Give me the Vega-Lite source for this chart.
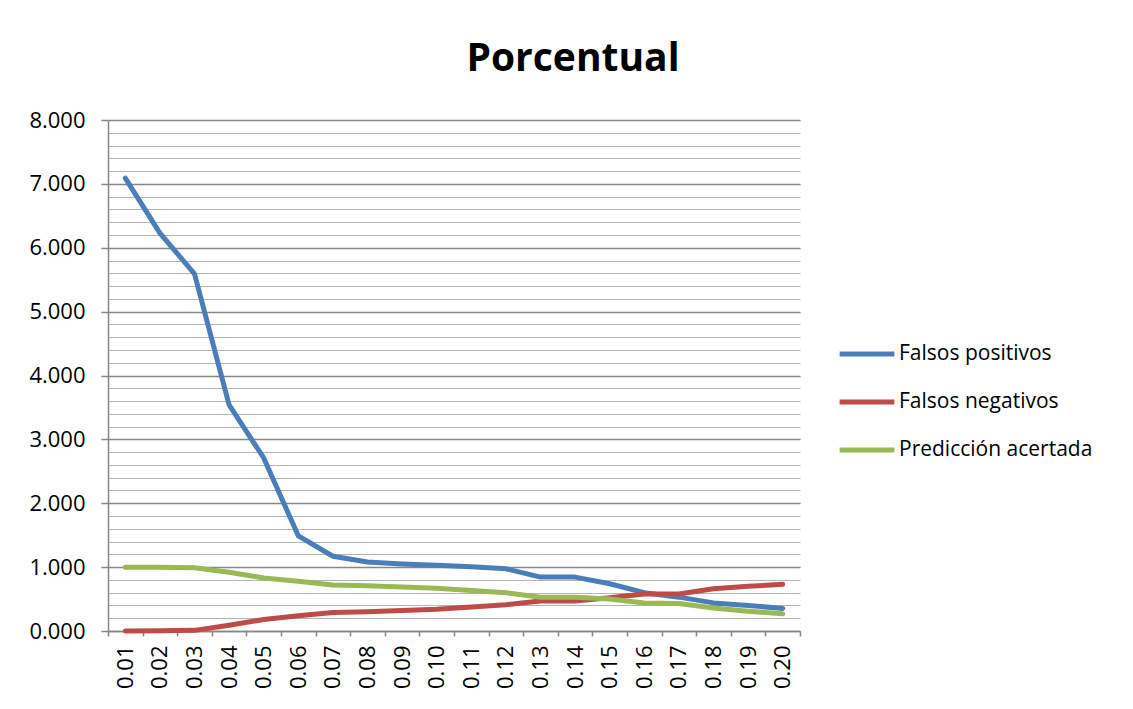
{
  "$schema": "https://vega.github.io/schema/vega-lite/v6.json",
  "width": 692,
  "height": 511,
  "autosize": {"type": "none"},
  "padding": {"left": 108, "top": 120, "right": 333, "bottom": 78},
  "background": "white",
  "title": {
    "text": "Porcentual",
    "font": "Open Sans",
    "fontSize": 39,
    "fontWeight": "bold",
    "color": "black",
    "anchor": "middle",
    "dx": 119,
    "offset": 30
  },
  "data": {
    "values": [
      {"umbral": "0.01", "serie": "Falsos positivos", "valor": 7.09},
      {"umbral": "0.02", "serie": "Falsos positivos", "valor": 6.23},
      {"umbral": "0.03", "serie": "Falsos positivos", "valor": 5.59},
      {"umbral": "0.04", "serie": "Falsos positivos", "valor": 3.54},
      {"umbral": "0.05", "serie": "Falsos positivos", "valor": 2.71},
      {"umbral": "0.06", "serie": "Falsos positivos", "valor": 1.49},
      {"umbral": "0.07", "serie": "Falsos positivos", "valor": 1.17},
      {"umbral": "0.08", "serie": "Falsos positivos", "valor": 1.08},
      {"umbral": "0.09", "serie": "Falsos positivos", "valor": 1.05},
      {"umbral": "0.10", "serie": "Falsos positivos", "valor": 1.03},
      {"umbral": "0.11", "serie": "Falsos positivos", "valor": 1.005},
      {"umbral": "0.12", "serie": "Falsos positivos", "valor": 0.974},
      {"umbral": "0.13", "serie": "Falsos positivos", "valor": 0.844},
      {"umbral": "0.14", "serie": "Falsos positivos", "valor": 0.844},
      {"umbral": "0.15", "serie": "Falsos positivos", "valor": 0.74},
      {"umbral": "0.16", "serie": "Falsos positivos", "valor": 0.60},
      {"umbral": "0.17", "serie": "Falsos positivos", "valor": 0.53},
      {"umbral": "0.18", "serie": "Falsos positivos", "valor": 0.44},
      {"umbral": "0.19", "serie": "Falsos positivos", "valor": 0.40},
      {"umbral": "0.20", "serie": "Falsos positivos", "valor": 0.354},
      {"umbral": "0.01", "serie": "Falsos negativos", "valor": 0.0},
      {"umbral": "0.02", "serie": "Falsos negativos", "valor": 0.005},
      {"umbral": "0.03", "serie": "Falsos negativos", "valor": 0.01},
      {"umbral": "0.04", "serie": "Falsos negativos", "valor": 0.09},
      {"umbral": "0.05", "serie": "Falsos negativos", "valor": 0.18},
      {"umbral": "0.06", "serie": "Falsos negativos", "valor": 0.24},
      {"umbral": "0.07", "serie": "Falsos negativos", "valor": 0.29},
      {"umbral": "0.08", "serie": "Falsos negativos", "valor": 0.30},
      {"umbral": "0.09", "serie": "Falsos negativos", "valor": 0.32},
      {"umbral": "0.10", "serie": "Falsos negativos", "valor": 0.34},
      {"umbral": "0.11", "serie": "Falsos negativos", "valor": 0.375},
      {"umbral": "0.12", "serie": "Falsos negativos", "valor": 0.41},
      {"umbral": "0.13", "serie": "Falsos negativos", "valor": 0.47},
      {"umbral": "0.14", "serie": "Falsos negativos", "valor": 0.47},
      {"umbral": "0.15", "serie": "Falsos negativos", "valor": 0.52},
      {"umbral": "0.16", "serie": "Falsos negativos", "valor": 0.58},
      {"umbral": "0.17", "serie": "Falsos negativos", "valor": 0.58},
      {"umbral": "0.18", "serie": "Falsos negativos", "valor": 0.66},
      {"umbral": "0.19", "serie": "Falsos negativos", "valor": 0.70},
      {"umbral": "0.20", "serie": "Falsos negativos", "valor": 0.73},
      {"umbral": "0.01", "serie": "Predicción acertada", "valor": 1.0},
      {"umbral": "0.02", "serie": "Predicción acertada", "valor": 1.0},
      {"umbral": "0.03", "serie": "Predicción acertada", "valor": 0.99},
      {"umbral": "0.04", "serie": "Predicción acertada", "valor": 0.92},
      {"umbral": "0.05", "serie": "Predicción acertada", "valor": 0.83},
      {"umbral": "0.06", "serie": "Predicción acertada", "valor": 0.78},
      {"umbral": "0.07", "serie": "Predicción acertada", "valor": 0.72},
      {"umbral": "0.08", "serie": "Predicción acertada", "valor": 0.71},
      {"umbral": "0.09", "serie": "Predicción acertada", "valor": 0.69},
      {"umbral": "0.10", "serie": "Predicción acertada", "valor": 0.67},
      {"umbral": "0.11", "serie": "Predicción acertada", "valor": 0.635},
      {"umbral": "0.12", "serie": "Predicción acertada", "valor": 0.60},
      {"umbral": "0.13", "serie": "Predicción acertada", "valor": 0.53},
      {"umbral": "0.14", "serie": "Predicción acertada", "valor": 0.53},
      {"umbral": "0.15", "serie": "Predicción acertada", "valor": 0.50},
      {"umbral": "0.16", "serie": "Predicción acertada", "valor": 0.44},
      {"umbral": "0.17", "serie": "Predicción acertada", "valor": 0.43},
      {"umbral": "0.18", "serie": "Predicción acertada", "valor": 0.36},
      {"umbral": "0.19", "serie": "Predicción acertada", "valor": 0.31},
      {"umbral": "0.20", "serie": "Predicción acertada", "valor": 0.27}
    ]
  },
  "encoding": {
    "x": {
      "field": "umbral",
      "type": "ordinal",
      "scale": {"type": "band", "paddingInner": 0, "paddingOuter": 0},
      "axis": {
        "title": null,
        "labelAngle": -90,
        "labelAlign": "right",
        "labelBaseline": "middle",
        "labelFont": "Open Sans",
        "labelFontSize": 22,
        "labelColor": "black",
        "labelPadding": 9,
        "tickBand": "extent",
        "tickSize": 5,
        "tickWidth": 1.5,
        "tickColor": "#868686",
        "domainColor": "#868686",
        "domainWidth": 1.5,
        "grid": false
      }
    },
    "y": {
      "field": "valor",
      "type": "quantitative",
      "scale": {"domain": [0, 8], "nice": false}
    }
  },
  "layer": [
    {
      "mark": {"type": "line", "opacity": 0},
      "encoding": {
        "y": {
          "field": "valor",
          "type": "quantitative",
          "scale": {"domain": [0, 8], "nice": false},
          "axis": {
            "orient": "left",
            "title": null,
            "values": [0.2, 0.4, 0.6, 0.8, 1.2, 1.4, 1.6, 1.8, 2.2, 2.4, 2.6, 2.8, 3.2, 3.4, 3.6, 3.8, 4.2, 4.4, 4.6, 4.8, 5.2, 5.4, 5.6, 5.8, 6.2, 6.4, 6.6, 6.8, 7.2, 7.4, 7.6, 7.8],
            "labels": false,
            "ticks": false,
            "domain": false,
            "grid": true,
            "gridColor": "#b4b4b4",
            "gridWidth": 1.2,
            "zindex": 0
          }
        },
        "detail": {"field": "serie"}
      }
    },
    {
      "mark": {"type": "line", "strokeWidth": 5, "strokeCap": "round", "strokeJoin": "round"},
      "encoding": {
        "y": {
          "field": "valor",
          "type": "quantitative",
          "scale": {"domain": [0, 8], "nice": false},
          "axis": {
            "orient": "left",
            "title": null,
            "values": [0, 1, 2, 3, 4, 5, 6, 7, 8],
            "format": ".3f",
            "labelFont": "Open Sans",
            "labelFontSize": 22,
            "labelColor": "black",
            "labelPadding": 16,
            "tickSize": 7,
            "tickWidth": 1.5,
            "tickColor": "#868686",
            "domainColor": "#868686",
            "domainWidth": 1.5,
            "grid": true,
            "gridColor": "#868686",
            "gridWidth": 1.3,
            "zindex": 0
          }
        },
        "color": {
          "field": "serie",
          "type": "nominal",
          "sort": ["Falsos positivos", "Falsos negativos", "Predicción acertada"],
          "scale": {
            "domain": ["Falsos positivos", "Falsos negativos", "Predicción acertada"],
            "range": ["#4a7ebb", "#be4b48", "#98b954"]
          },
          "legend": {
            "title": null,
            "orient": "none",
            "legendX": 729,
            "legendY": 204,
            "symbolType": "stroke",
            "symbolSize": 3000,
            "symbolStrokeWidth": 5,
            "labelFont": "Open Sans",
            "labelFontSize": 21,
            "labelColor": "black",
            "labelOffset": 2,
            "rowPadding": 8,
            "labelLimit": 300
          }
        }
      }
    }
  ],
  "resolve": {"axis": {"y": "independent"}},
  "config": {
    "view": {"stroke": null}
  }
}
